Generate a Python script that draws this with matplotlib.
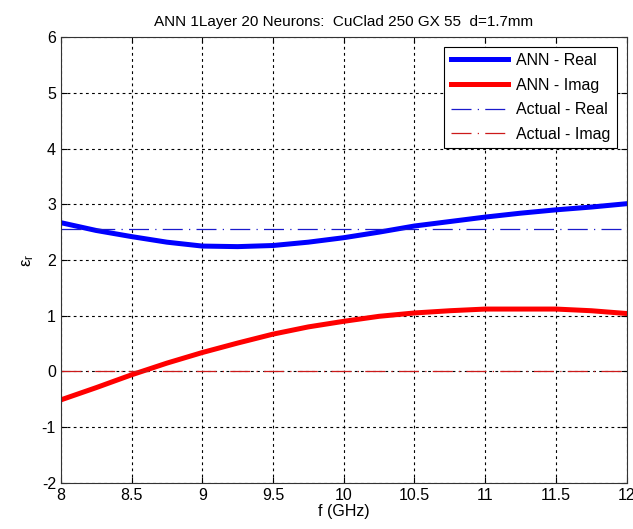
import matplotlib
matplotlib.use("Agg")
import matplotlib.pyplot as plt

plt.rcParams['font.family'] = ['Liberation Sans', 'DejaVu Sans']
plt.rcParams['axes.unicode_minus'] = False

freq = [8.0, 8.25, 8.5, 8.75, 9.0, 9.25, 9.5, 9.75, 10.0, 10.25, 10.5, 10.75, 11.0, 11.25, 11.5, 11.75, 12.0]
ann_real = [2.67, 2.53, 2.42, 2.32, 2.25, 2.24, 2.26, 2.32, 2.40, 2.50, 2.61, 2.69, 2.77, 2.84, 2.90, 2.95, 3.01]
ann_imag = [-0.51, -0.29, -0.06, 0.15, 0.34, 0.51, 0.67, 0.80, 0.90, 0.99, 1.05, 1.09, 1.12, 1.12, 1.12, 1.09, 1.04]
actual_real = [2.55] * len(freq)
actual_imag = [0.0] * len(freq)

fig = plt.figure(figsize=(6.33, 5.29), dpi=100)
ax = fig.add_axes([0.096, 0.087, 0.894, 0.843])

ax.plot(freq, ann_real, color='#0000ff', lw=3.6, label='ANN - Real')
ax.plot(freq, ann_imag, color='#ff0000', lw=3.6, label='ANN - Imag')
ax.plot(freq, actual_real, color='#1a1acc', lw=0.9, ls=(0, (16, 5, 1, 5)), label='Actual - Real')
ax.plot(freq, actual_imag, color='#cc1a1a', lw=0.9, ls=(0, (16, 5, 1, 5)), label='Actual - Imag')

ax.set_xlim(8, 12)
ax.set_ylim(-2, 6)
ax.set_xticks([8, 8.5, 9, 9.5, 10, 10.5, 11, 11.5, 12])
ax.set_xticklabels(['8', '8.5', '9', '9.5', '10', '10.5', '11', '11.5', '12'])
ax.set_yticks(range(-2, 7))
ax.grid(True, color='black', ls=(0, (2.5, 3)), lw=0.8)
ax.tick_params(direction='in', labelsize=11.5, top=True, right=True, length=4)
for s in ax.spines.values():
    s.set_color('#333333')

ax.set_title('ANN 1Layer 20 Neurons:  CuClad 250 GX 55  d=1.7mm', fontsize=11, pad=8)
ax.set_xlabel('f (GHz)', fontsize=11.5, labelpad=1)
ax.set_ylabel(r'$\mathregular{\epsilon_r}$', fontsize=12)

leg = ax.legend(loc='upper right', fontsize=11.5, fancybox=False, edgecolor='black',
                framealpha=1, handlelength=3.6, handletextpad=0.5, labelspacing=0.6,
                borderaxespad=0.6)
leg.get_frame().set_linewidth(0.8)

plt.savefig('out.png', dpi=100)
plt.close()
